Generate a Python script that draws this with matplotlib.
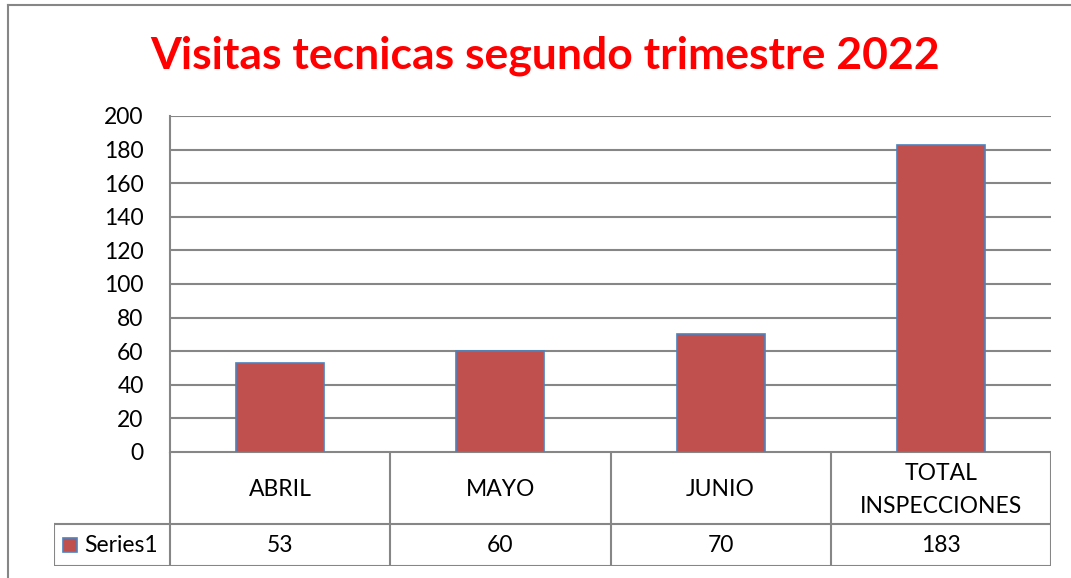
import matplotlib.pyplot as plt

categories = ['ABRIL', 'MAYO', 'JUNIO', 'TOTAL\nINSPECCIONES']
values = [53, 60, 70, 183]
series_name = 'Series1'
y_ticks = list(range(0, 201, 20))

W, H = 1071, 578
plt.rcParams['font.family'] = ['Lato', 'DejaVu Sans']

fig = plt.figure(figsize=(W / 100, H / 100), dpi=100)

# outer chart border (only top and left visible in the crop)
fig.add_artist(plt.Line2D([8 / W, 8 / W], [0, 1 - 5 / H], color='#868686', lw=1.5))
fig.add_artist(plt.Line2D([8 / W, 1], [1 - 5 / H, 1 - 5 / H], color='#868686', lw=1.5))

# plot area
left, right, top, bottom = 170, 1051, 116, 452
ax = fig.add_axes([left / W, 1 - bottom / H, (right - left) / W, (bottom - top) / H])
x = list(range(len(categories)))
ax.bar(x, values, width=0.4, color='#C0504D', edgecolor='#4F81BD', linewidth=1.2, zorder=3)
ax.set_xlim(-0.5, len(categories) - 0.5)
ax.set_ylim(0, 200)
ax.set_yticks(y_ticks)
ax.yaxis.grid(True, color='#868686', linewidth=1.5, zorder=0)
ax.tick_params(axis='y', length=0, pad=19, labelsize=16.5)
ax.tick_params(axis='x', length=0, labelbottom=False)
for s in ['top', 'right', 'bottom']:
    ax.spines[s].set_visible(False)
ax.spines['left'].set_color('#868686')
ax.spines['left'].set_linewidth(1.5)

# data table below the plot area
tab_left, tab_bottom, row_split = 54, 566, 524
tab = fig.add_axes([tab_left / W, 1 - tab_bottom / H, (right - tab_left) / W, (tab_bottom - bottom) / H])
cat_px = (right - left) / len(categories)
x0 = -0.5 - (left - tab_left) / cat_px
tab.set_xlim(x0, len(categories) - 0.5)
tab.set_ylim(0, tab_bottom - bottom)
tab.axis('off')
split = tab_bottom - row_split
full = tab_bottom - bottom
lc = '#868686'
lw = 1.5
# horizontal lines
tab.plot([-0.5, len(categories) - 0.5], [full, full], color=lc, lw=lw)
tab.plot([x0, len(categories) - 0.5], [split, split], color=lc, lw=lw)
tab.plot([x0, len(categories) - 0.5], [0, 0], color=lc, lw=lw)
# vertical lines
tab.plot([x0, x0], [0, split], color=lc, lw=lw)
for i in range(len(categories) + 1):
    tab.plot([i - 0.5, i - 0.5], [0, full], color=lc, lw=lw)
for i, (c, v) in enumerate(zip(categories, values)):
    tab.text(i, (full + split) / 2 - 2, c, ha='center', va='center', fontsize=16.5, linespacing=1.75)
    tab.text(i, split / 2, str(v), ha='center', va='center', fontsize=16.5)
# legend key + series name
tab.add_patch(plt.Rectangle((x0 + 0.04, split / 2 - 7), 0.065, 14,
                            facecolor='#C0504D', edgecolor='#4F81BD', lw=1.2))
tab.text(x0 + 0.135, split / 2, series_name, ha='left', va='center', fontsize=16.5)

fig.text(545 / W, 1 - 56 / H, 'Visitas tecnicas segundo trimestre 2022',
         ha='center', va='center', fontsize=32, fontweight='bold', color='#FF0000')

fig.savefig('out.png', dpi=100)
